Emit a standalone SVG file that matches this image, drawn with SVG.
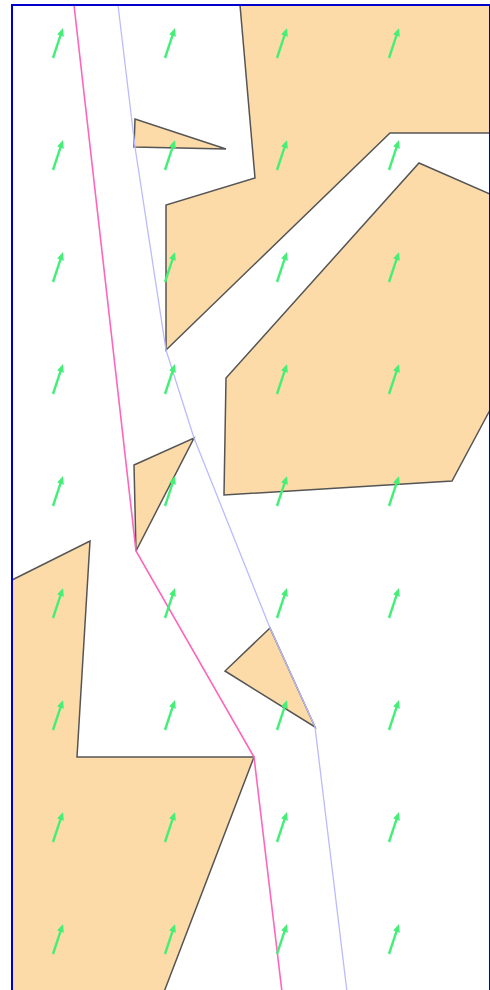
<svg xmlns="http://www.w3.org/2000/svg" width="490" height="990" viewBox="0 0 490 990">
<style>
.ob{fill:#fcdba8;stroke:#555;stroke-width:1.5;stroke-linejoin:miter}
</style>
<defs>
<g id="arrow">
<line x1="0" y1="0" x2="7.6" y2="-22.8" stroke="#44ee77" stroke-width="2.4"/>
<polygon points="10,-30 10.8,-21.3 4.2,-23.5" fill="#44ee77"/>
</g>
</defs>
<rect width="490" height="990" fill="#fff"/>
<g id="obstacles">
<polygon id="ob1" class="ob" points="240,5 490,5 490,133 390,133 166,350 166,205 255,178"/>
<polygon id="ob2" class="ob" points="135,119 134,147 226,149"/>
<polygon id="ob3" class="ob" points="419,163 490,194 490,410 452,481 224,495 226,378"/>
<polygon id="ob4" class="ob" points="134,465 194,438 136,551"/>
<polygon id="ob5" class="ob" points="270,628 225,671 315,727"/>
<polygon id="ob6" class="ob" points="12,580 90,541 77,757 254,757 164,992 12,992"/>
</g>
<g id="connectors">
<polyline fill="none" stroke="#ff66bb" stroke-width="1.6" points="74,5 136,551 254,757 282,992"/>
<polyline fill="none" stroke="#bbbbff" stroke-width="1.3" points="118,5 135,147 166,350 194,438 270,628 315,727 347,992"/>
</g>
<g id="field">
<use href="#arrow" x="53" y="58"/><use href="#arrow" x="165" y="58"/><use href="#arrow" x="277" y="58"/><use href="#arrow" x="389" y="58"/>
<use href="#arrow" x="53" y="170"/><use href="#arrow" x="165" y="170"/><use href="#arrow" x="277" y="170"/><use href="#arrow" x="389" y="170"/>
<use href="#arrow" x="53" y="282"/><use href="#arrow" x="165" y="282"/><use href="#arrow" x="277" y="282"/><use href="#arrow" x="389" y="282"/>
<use href="#arrow" x="53" y="394"/><use href="#arrow" x="165" y="394"/><use href="#arrow" x="277" y="394"/><use href="#arrow" x="389" y="394"/>
<use href="#arrow" x="53" y="506"/><use href="#arrow" x="165" y="506"/><use href="#arrow" x="277" y="506"/><use href="#arrow" x="389" y="506"/>
<use href="#arrow" x="53" y="618"/><use href="#arrow" x="165" y="618"/><use href="#arrow" x="277" y="618"/><use href="#arrow" x="389" y="618"/>
<use href="#arrow" x="53" y="730"/><use href="#arrow" x="165" y="730"/><use href="#arrow" x="277" y="730"/><use href="#arrow" x="389" y="730"/>
<use href="#arrow" x="53" y="842"/><use href="#arrow" x="165" y="842"/><use href="#arrow" x="277" y="842"/><use href="#arrow" x="389" y="842"/>
<use href="#arrow" x="53" y="954"/><use href="#arrow" x="165" y="954"/><use href="#arrow" x="277" y="954"/><use href="#arrow" x="389" y="954"/>
</g>
<rect id="frame" x="12" y="5" width="478" height="990" fill="none" stroke="#0000cc" stroke-width="2"/>
</svg>
